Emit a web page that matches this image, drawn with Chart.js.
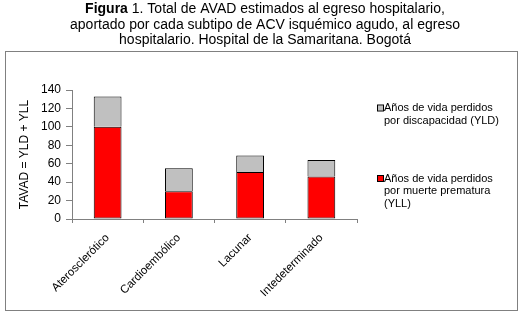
<!DOCTYPE html>
<html>
<head>
<meta charset="utf-8">
<script src="https://cdn.jsdelivr.net/npm/chart.js@4.4.0/dist/chart.umd.min.js"></script>
<style>
  html, body { margin: 0; padding: 0; background: #fff; }
</style>
</head>
<body>
<canvas id="avadChart" width="530" height="318"></canvas>
<script>
// data
const categories = ['Aterosclerótico', 'Cardioembólico', 'Lacunar', 'Intedeterminado'];
const yll = [100, 30, 51, 46];
const yld = [33, 25, 18, 18];
const yTicks = [0, 20, 40, 60, 80, 100, 120, 140];

const titleLines = [
  ['Figura', ' 1. Total de AVAD estimados al egreso hospitalario,'],
  ['', 'aportado por cada subtipo de ACV isquémico agudo, al egreso'],
  ['', 'hospitalario. Hospital de la Samaritana. Bogotá']
];
const legendYld = ['Años de vida perdidos', 'por discapacidad (YLD)'];
const legendYll = ['Años de vida perdidos', 'por muerte prematura', '(YLL)'];

const FONT = "'Liberation Sans', Arial, sans-serif";

// title above the box + outer frame
const framePlugin = {
  id: 'frame',
  afterDraw(chart) {
    const ctx = chart.ctx;
    ctx.save();
    ctx.strokeStyle = '#808080';
    ctx.lineWidth = 1;
    ctx.strokeRect(5.5, 51.5, 512, 259);

    ctx.fillStyle = '#000';
    ctx.textBaseline = 'alphabetic';
    titleLines.forEach((ln, i) => {
      ctx.font = 'bold 14px ' + FONT;
      const wb = ctx.measureText(ln[0]).width;
      ctx.font = '14px ' + FONT;
      const wn = ctx.measureText(ln[1]).width;
      let x = 265 - (wb + wn) / 2;
      const y = 13 + i * 15.5;
      ctx.textAlign = 'left';
      if (ln[0]) {
        ctx.font = 'bold 14px ' + FONT;
        ctx.fillText(ln[0], x, y);
        x += wb;
      }
      ctx.font = '14px ' + FONT;
      ctx.fillText(ln[1], x, y);
    });
    ctx.restore();
  }
};

// legend drawn by hand so labels can wrap like the original
const legendPlugin = {
  id: 'sideLegend',
  afterDraw(chart) {
    const ctx = chart.ctx;
    const items = [
      { lines: legendYld, color: chart.data.datasets[1].backgroundColor, y: 108 },
      { lines: legendYll, color: chart.data.datasets[0].backgroundColor, y: 178.5 }
    ];
    ctx.save();
    ctx.font = '11px ' + FONT;
    ctx.textBaseline = 'middle';
    ctx.textAlign = 'left';
    items.forEach(it => {
      ctx.fillStyle = it.color;
      ctx.fillRect(378, it.y - 2.5, 5, 5);
      ctx.strokeStyle = '#000';
      ctx.lineWidth = 1;
      ctx.strokeRect(377.5, it.y - 3, 6, 6);
      ctx.fillStyle = '#000';
      it.lines.forEach((t, j) => ctx.fillText(t, 384, it.y + j * 12.5));
    });
    ctx.restore();
  }
};

new Chart(document.getElementById('avadChart'), {
  type: 'bar',
  data: {
    labels: categories,
    datasets: [
      {
        label: 'Años de vida perdidos por muerte prematura (YLL)',
        data: yll,
        backgroundColor: '#ff0000',
        borderColor: '#000',
        borderWidth: 1,
        borderSkipped: false
      },
      {
        label: 'Años de vida perdidos por discapacidad (YLD)',
        data: yld,
        backgroundColor: '#c0c0c0',
        borderColor: '#000',
        borderWidth: 1,
        borderSkipped: 'bottom'
      }
    ]
  },
  options: {
    responsive: false,
    animation: false,
    events: [],
    layout: { padding: { left: 5, top: 90, right: 173, bottom: 5 } },
    datasets: {
      bar: { categoryPercentage: 0.39, barPercentage: 1 }
    },
    plugins: {
      legend: { display: false },
      tooltip: { enabled: false },
      title: { display: false }
    },
    scales: {
      x: {
        stacked: true,
        afterFit(scale) { scale.height = 94; },
        grid: {
          offset: true,
          drawOnChartArea: false,
          drawTicks: true,
          tickLength: 4,
          color: '#808080'
        },
        border: { color: '#808080' },
        ticks: {
          minRotation: 45,
          maxRotation: 45,
          padding: 8,
          color: '#000',
          font: { family: FONT, size: 11.5 }
        }
      },
      y: {
        stacked: true,
        min: 0,
        max: 140,
        afterFit(scale) { scale.width = 67; },
        afterBuildTicks(scale) { scale.ticks = yTicks.map(v => ({ value: v })); },
        grid: {
          drawOnChartArea: false,
          drawTicks: true,
          tickLength: 6,
          color: '#808080'
        },
        border: { color: '#808080' },
        ticks: {
          padding: 5,
          color: '#000',
          font: { family: FONT, size: 12 }
        },
        title: {
          display: true,
          text: 'TAVAD = YLD + YLL',
          color: '#000',
          padding: { top: 12, bottom: 0 },
          font: { family: FONT, size: 12 }
        }
      }
    }
  },
  plugins: [framePlugin, legendPlugin]
});
</script>
</body>
</html>
